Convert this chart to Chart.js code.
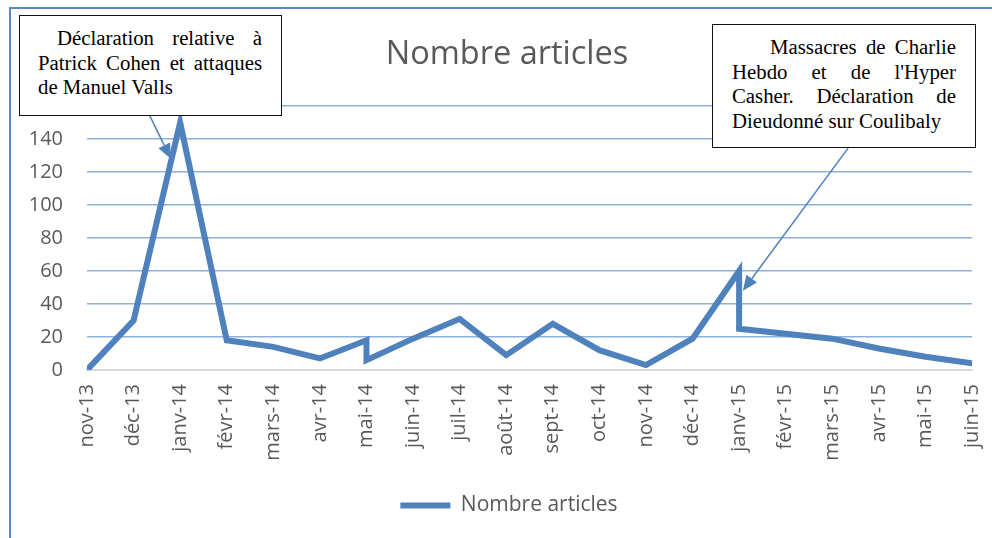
<!DOCTYPE html>
<html lang="fr">
<head>
<meta charset="utf-8">
<script src="https://cdn.jsdelivr.net/npm/chart.js@4/dist/chart.umd.min.js"></script>
<style>
  html, body { margin: 0; padding: 0; background: #fff; }
  #wrap { position: relative; width: 992px; height: 538px; overflow: hidden; }
  #frame {
    position: absolute; left: 9px; top: 7px; right: -4px; bottom: -4px;
    border-left: 2px solid #5b87c4; border-top: 2px solid #5b87c4;
  }
  #chart { position: absolute; left: 0; top: 0; }
  #title {
    position: absolute; left: 0; width: 1014px; top: 30px;
    text-align: center; font-family: 'Open Sans', sans-serif; font-size: 32.5px;
    color: #595959; line-height: 44px;
  }
  .note {
    position: absolute; box-sizing: border-box; background: #fff;
    border: 1.5px solid #111; font-family: 'Liberation Serif', 'Times New Roman', serif;
    font-size: 20.8px; line-height: 24.5px; color: #000; text-align: justify;
  }
  #note1 { left: 19px; top: 15px; width: 263px; height: 101px; padding: 10px 19px 0 18px; text-indent: 19px; }
  #note2 { left: 712px; top: 24px; width: 264px; height: 124px; padding: 10px 19px 0 19px; text-indent: 38px; }
</style>
</head>
<body>
<div id="wrap">
  <div id="frame"></div>
  <canvas id="chart" width="992" height="538"></canvas>
  <div id="title">Nombre articles</div>
  <div class="note" id="note1">Déclaration relative à Patrick Cohen et attaques de Manuel Valls</div>
  <div class="note" id="note2">Massacres de Charlie Hebdo et de l'Hyper Casher. Déclaration de Dieudonné sur Coulibaly</div>
</div>
<script>
// --- DONNÉES ---
// Mois de l'axe (un tick par mois)
const months = ['nov-13', 'déc-13', 'janv-14', 'févr-14', 'mars-14', 'avr-14', 'mai-14', 'juin-14',
  'juil-14', 'août-14', 'sept-14', 'oct-14', 'nov-14', 'déc-14', 'janv-15', 'févr-15',
  'mars-15', 'avr-15', 'mai-15', 'juin-15']

// Mois de chaque point (mai-14 et janv-15 apparaissent deux fois)
const pointMonths = ['nov-13', 'déc-13', 'janv-14', 'févr-14', 'mars-14', 'avr-14', 'mai-14', 'mai-14',
  'juin-14', 'juil-14', 'août-14', 'sept-14', 'oct-14', 'nov-14', 'déc-14', 'janv-15', 'janv-15',
  'févr-15', 'mars-15', 'avr-15', 'mai-15', 'juin-15']
const articles = [0, 30, 150, 18, 14, 7, 18, 6, 19, 31, 9, 28, 12, 3, 19, 60, 25, 22, 19, 13, 8, 4]

const yTicks = [0, 20, 40, 60, 80, 100, 120, 140, 160]

// Flèches des annotations (queue -> pointe), en unités de données
const arrows = [
  { from: { x: 1.35, y: 154 }, to: { x: 1.8, y: 128 } },
  { from: { x: 16.34, y: 134.5 }, to: { x: 14.08, y: 48 } }
]

const blue = '#4f81bd'
const grey = '#595959'

const points = pointMonths.map((m, i) => ({ x: months.indexOf(m), y: articles[i] }))

// Plugin simple pour dessiner les flèches
const arrowPlugin = {
  id: 'arrows',
  afterLayout(chart) {
    // recentrer la légende comme dans Excel
    if (chart.legend) { chart.legend.left = 34; chart.legend.right = 984 }
  },
  afterDatasetsDraw(chart) {
    const { ctx, scales: { x, y } } = chart
    ctx.save()
    ctx.strokeStyle = blue
    ctx.fillStyle = blue
    ctx.lineWidth = 1.5
    arrows.forEach(a => {
      const x1 = x.getPixelForValue(a.from.x), y1 = y.getPixelForValue(a.from.y)
      const x2 = x.getPixelForValue(a.to.x), y2 = y.getPixelForValue(a.to.y)
      const ang = Math.atan2(y2 - y1, x2 - x1)
      const len = 15, half = 6.5
      const bx = x2 - len * Math.cos(ang), by = y2 - len * Math.sin(ang)
      ctx.beginPath()
      ctx.moveTo(x1, y1)
      ctx.lineTo(bx, by)
      ctx.stroke()
      ctx.beginPath()
      ctx.moveTo(x2, y2)
      ctx.lineTo(bx + half * Math.sin(ang), by - half * Math.cos(ang))
      ctx.lineTo(bx - half * Math.sin(ang), by + half * Math.cos(ang))
      ctx.closePath()
      ctx.fill()
    })
    ctx.restore()
  }
}

new Chart(document.getElementById('chart'), {
  type: 'line',
  data: {
    datasets: [{
      label: 'Nombre articles',
      data: points,
      borderColor: blue,
      backgroundColor: blue,
      borderWidth: 6,
      borderCapStyle: 'round',
      borderJoinStyle: 'miter',
      pointRadius: 0,
      tension: 0,
      fill: false
    }]
  },
  options: {
    responsive: false,
    animation: false,
    devicePixelRatio: 1,
    layout: { padding: { left: 10, right: 20, top: 106, bottom: 12 } },
    plugins: {
      title: { display: false },
      tooltip: { enabled: false },
      legend: {
        position: 'bottom',
        labels: {
          usePointStyle: true,
          pointStyle: 'line',
          pointStyleWidth: 50,
          color: grey,
          padding: 14,
          font: { family: "'Open Sans', sans-serif", size: 21 }
        }
      }
    },
    scales: {
      x: {
        type: 'linear',
        min: 0,
        max: months.length - 1,
        afterBuildTicks: s => { s.ticks = months.map((m, i) => ({ value: i })) },
        afterFit: s => { s.paddingLeft = 0; s.paddingRight = 0; s.height = 111 },
        ticks: {
          autoSkip: false,
          maxRotation: 90,
          minRotation: 90,
          padding: 14,
          color: grey,
          font: { family: "'Open Sans', sans-serif", size: 20 },
          callback: v => months[v]
        },
        grid: { display: false, drawTicks: false },
        border: { color: '#d9d9d9', width: 2 }
      },
      y: {
        min: 0,
        max: 160,
        afterBuildTicks: s => { s.ticks = yTicks.map(v => ({ value: v })) },
        afterFit: s => { s.width = 77 },
        ticks: {
          padding: 24,
          color: grey,
          font: { family: "'Open Sans', sans-serif", size: 20 }
        },
        grid: {
          drawTicks: false,
          lineWidth: 1.5,
          color: ctx => ctx.tick && ctx.tick.value === 0 ? 'rgba(0,0,0,0)' : '#8eb0dc'
        },
        border: { display: false }
      }
    }
  },
  plugins: [arrowPlugin]
})
</script>
</body>
</html>
